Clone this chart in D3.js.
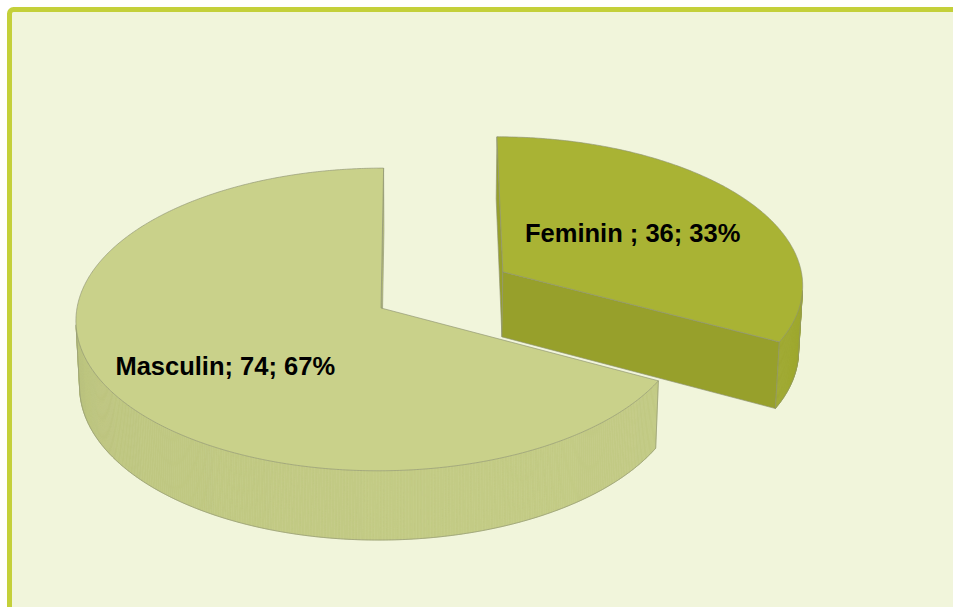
<!DOCTYPE html>
<html><head><meta charset="utf-8">
<script src="https://cdn.jsdelivr.net/npm/d3@7"></script>
<style>html,body{margin:0;padding:0;background:#fff;} svg{display:block;}</style>
</head><body>
<svg id="chart" width="953" height="607"></svg>
<script>
// ---- data ----
const categories = ["Feminin ", "Masculin"];
const values = [36, 74];
const separator = "; ";

// ---- style / layout ----
const topColors  = ["#a9b334", "#c9d18a"];
const cutColors  = ["#97a02b", "#bcc47d"];
const wallDark   = ["#939d28", "#b4bc77"];
const wallLight  = ["#a0aa30", "#c3cb85"];
const explode    = [0.474, 0];
const labelRadius = [0.525, 0.62];
const labelAngleShift = [0, -6];
const thickness = 0.252;
const cam = {f: 3496, D: 11.5, phi: Math.asin(0.495), Xc: 0.12, Sx: 417.5, Sy: 308};

const W = 953, H = 607;
const svg = d3.select("#chart");
svg.append("rect").attr("x", 9.5).attr("y", 9.5).attr("width", W).attr("height", H)
  .attr("rx", 4).attr("fill", "#f1f5db").attr("stroke", "#c4d03a").attr("stroke-width", 5);

const S = Math.sin(cam.phi), C = Math.cos(cam.phi);
const camPos = [cam.Xc, cam.D * S, cam.D * C];
function depthOf(p) { return cam.D - p[1] * S - p[2] * C; }
function proj(p) {
  const d = depthOf(p);
  return [cam.Sx + cam.f * (p[0] - cam.Xc) / d, cam.Sy - cam.f * (p[1] * C - p[2] * S) / d];
}
const radius = d3.scaleLinear().domain([0, 1]).range([0, 1]);
const line = d3.line();
const poly = pts => line(pts.map(proj)) + "Z";

const total = d3.sum(values);
const data = categories.map((c, i) => ({name: c, value: values[i], i}));
const pie = d3.pie().sort(null).value(d => d.value).startAngle(0).endAngle(2 * Math.PI);
const arcs = pie(data);

const L = [0.3, 0, 0.95];
const slices = arcs.map(d => {
  const i = d.data.i;
  const a0 = d.startAngle, a1 = d.endAngle, mid = (a0 + a1) / 2;
  const e = explode[i];
  const ox = e * Math.sin(mid), oz = -e * Math.cos(mid);
  const R = radius(1);
  const pt = (a, r, Y) => [ox + r * Math.sin(a), Y, oz - r * Math.cos(a)];
  return {d, i, a0, a1, mid, ox, oz, R, pt, depth: depthOf([ox, 0, oz])};
});
slices.sort((a, b) => b.depth - a.depth);

const vis = (n, p) => n[0] * (camPos[0] - p[0]) + n[1] * (camPos[1] - p[1]) + n[2] * (camPos[2] - p[2]) > 0;

slices.forEach(sl => {
  const {i, a0, a1, R, pt} = sl;
  const h = thickness;
  const g = svg.append("g");
  const faces = [];
  faces.push({pts: [pt(a0, 0, 0), pt(a0, R, 0), pt(a0, R, -h), pt(a0, 0, -h)],
              n: [-Math.cos(a0), 0, -Math.sin(a0)], color: cutColors[i], cut: true});
  faces.push({pts: [pt(a1, 0, 0), pt(a1, R, 0), pt(a1, R, -h), pt(a1, 0, -h)],
              n: [Math.cos(a1), 0, Math.sin(a1)], color: cutColors[i], cut: true});
  const nSeg = Math.max(2, Math.ceil((a1 - a0) / (Math.PI / 360)));
  const angles = d3.range(nSeg + 1).map(k => a0 + (a1 - a0) * k / nSeg);
  const shade = d3.interpolateRgb(wallDark[i], wallLight[i]);
  for (let k = 0; k < nSeg; k++) {
    const b0 = angles[k], b1 = angles[k + 1], bm = (b0 + b1) / 2;
    const n = [Math.sin(bm), 0, -Math.cos(bm)];
    const t = Math.max(0, Math.min(1, 0.5 + 0.5 * (n[0] * L[0] + n[2] * L[2])));
    faces.push({pts: [pt(b0, R, 0), pt(b1, R, 0), pt(b1, R, -h), pt(b0, R, -h)], n,
                color: shade(t), wall: true, k});
  }
  const visible = faces.filter(f => {
    const c = [d3.mean(f.pts, p => p[0]), d3.mean(f.pts, p => p[1]), d3.mean(f.pts, p => p[2])];
    f.dep = depthOf(c);
    return vis(f.n, c);
  });
  visible.sort((a, b) => b.dep - a.dep);
  visible.forEach(f => {
    g.append("path").attr("d", poly(f.pts)).attr("fill", f.color)
      .attr("stroke", f.cut ? "#8d9273" : f.color).attr("stroke-width", f.cut ? 0.8 : 0.6)
      .attr("stroke-opacity", f.cut ? 0.8 : 1);
  });
  const visK = new Set(visible.filter(f => f.wall).map(f => f.k));
  let run = [];
  const runs = [];
  for (let k = 0; k < nSeg; k++) {
    if (visK.has(k)) { if (!run.length) run.push(k); run.push(k + 1); }
    else if (run.length) { runs.push(run); run = []; }
  }
  if (run.length) runs.push(run);
  runs.forEach(r => {
    g.append("path").attr("d", line(r.map(k => proj(pt(angles[k], R, -h)))))
      .attr("fill", "none").attr("stroke", "#8d9273").attr("stroke-width", 0.8).attr("stroke-opacity", 0.8);
    [r[0], r[r.length - 1]].forEach(k => {
      g.append("path").attr("d", line([proj(pt(angles[k], R, 0)), proj(pt(angles[k], R, -h))]))
        .attr("fill", "none").attr("stroke", "#8d9273").attr("stroke-width", 0.8).attr("stroke-opacity", 0.8);
    });
  });
  const topPts = [pt(a0, 0, 0)].concat(angles.map(a => pt(a, R, 0)));
  g.append("path").attr("d", poly(topPts)).attr("fill", topColors[i])
    .attr("stroke", "#8d9273").attr("stroke-width", 0.8).attr("stroke-opacity", 0.8);
});

// labels
slices.forEach(sl => {
  const {d, i, mid, pt} = sl;
  const p = proj(pt(mid + labelAngleShift[i] * Math.PI / 180, labelRadius[i], 0));
  const pct = Math.round(d.data.value / total * 100) + "%";
  svg.append("text").attr("x", p[0]).attr("y", p[1] + 9)
    .attr("text-anchor", "middle")
    .attr("font-family", "'Liberation Sans', Arial, sans-serif")
    .attr("font-weight", "bold").attr("font-size", "25.5px").attr("fill", "#000")
    .text(d.data.name + separator + d.data.value + separator + pct);
});
</script>
</body></html>
